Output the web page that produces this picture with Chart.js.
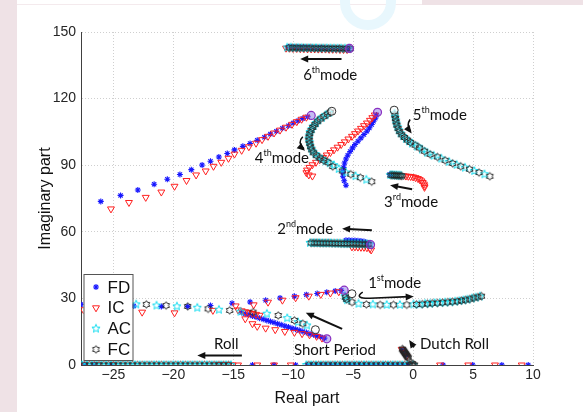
<!DOCTYPE html>
<html lang="en">
<head>
<meta charset="UTF-8" />
<title>Root locus</title>
<script src="https://cdn.jsdelivr.net/npm/chart.js"></script>
<style>
    html, body { margin: 0; padding: 0; background: #ffffff; }
    .wrap { position: relative; width: 583px; height: 412px; overflow: hidden; }
    .strip-left { position: absolute; left: 0; top: 0; width: 17px; height: 412px; background: #efe2e6; }
    .strip-top { position: absolute; left: 422px; top: 0; width: 161px; height: 5px; background: #efe2e6; }
    .line-top { position: absolute; left: 17px; top: 4px; width: 405px; height: 1px; background: #f4eaed; }
    .mark { position: absolute; left: 340px; top: -26px; width: 36px; height: 36px; border: 10px solid #e8f7fd; border-radius: 50%; }
    canvas { position: absolute; left: 0; top: 0; }
</style>
</head>
<body>
<div class="wrap">
    <div class="strip-left"></div>
    <div class="strip-top"></div>
    <div class="line-top"></div>
    <div class="mark"></div>
    <canvas id="locus" width="583" height="412"></canvas>
</div>
<script>
// tick values
const xTickValues = [-25, -20, -15, -10, -5, 0, 5, 10];
const yTickValues = [0, 30, 60, 90, 120, 150];

// FD  [real, imag]
const fdPoints = [
    // 6th mode
    [-10.4,143.2],[-10.15,143.2],[-9.9,143.1],[-9.65,143.1],[-9.4,143.0],[-9.15,143.0],[-8.9,142.9],[-8.65,142.9],[-8.4,142.9],[-8.15,142.8],[-7.9,142.8],[-7.65,142.8],[-7.4,142.7],[-7.15,142.7],[-6.9,142.7],[-6.65,142.6],[-6.4,142.6],[-6.15,142.6],[-5.9,142.5],[-5.65,142.5],[-5.4,142.5],
    // long branch, upper left
    [-26.05,73.7],[-24.4,76.4],[-22.96,78.8],[-21.6,81.4],[-20.5,83.7],[-19.45,85.8],[-18.5,88],[-17.6,90.1],[-16.9,91.8],[-16.2,93.7],[-15.5,95.3],[-14.9,96.9],[-14.2,98.5],[-13.6,99.8],[-13.0,101.2],[-12.4,102.6],[-11.9,104],[-11.4,105.3],[-10.9,106.6],[-10.4,107.8],[-10.0,109],[-9.6,110],[-9.2,111],[-8.8,111.8],
    // branch near 4th mode
    [-5.6,81],[-5.75,83],[-5.85,85],[-5.85,87],[-5.8,89],[-5.72,91],[-5.6,92.8],[-5.45,94.5],[-5.25,96.2],[-5.05,97.8],[-4.85,99.3],[-4.6,100.8],[-4.35,102.3],[-4.1,103.8],[-3.85,105.3],[-3.65,106.8],[-3.45,108.3],[-3.3,109.8],[-3.15,111.2],[-3.05,112.6],
    // 3rd mode
    [-1.95,85.8],[-1.8,85.7],
    // 2nd mode
    [-5.6,56.2],[-5.35,56.2],[-5.1,56.1],[-4.85,56.1],[-4.6,56.0],[-4.35,55.9],[-4.1,55.6],[-3.85,55.1],
    // 1st mode
    [-27.7,27.3],[-25.6,26.9],[-23.3,26.6],[-21.0,26.4],[-18.8,26.4],[-16.9,26.8],[-15.1,27.8],[-13.6,28.4],[-12.3,29.2],[-11.1,30.2],[-9.9,31.0],[-8.9,31.7],[-8.0,32.2],[-7.2,32.8],[-6.5,33.3],[-6.0,33.6],
    // short period
    [-14.3,23.6],[-14.0,23.1],[-13.7,22.6],[-13.4,22.1],[-13.1,21.6],[-12.8,21.1],[-12.5,20.6],[-12.2,20.1],[-11.9,19.6],[-11.6,19.1],[-11.3,18.6],[-11.0,18.1],[-10.7,17.6],[-10.4,17.1],[-10.1,16.6],[-9.8,16.1],[-9.5,15.6],[-9.2,15.1],[-8.9,14.6],[-8.6,14.1],[-8.3,13.6],[-8.0,13.1],[-7.7,12.6],[-7.4,12.1],
    // real axis (roll)
    [-27.4,0],[-26.6,0],[-25.2,0],[-13.4,0],[-11.6,0],[-9.8,0],
    [-8.8,0],[-8.4,0],[-8.0,0],[-7.6,0],[-7.2,0],[-6.8,0],[-6.4,0],[-6.0,0],[-5.6,0],[-5.2,0],[-4.8,0],[-4.4,0],[-4.0,0],[-3.6,0],[-3.2,0],[-2.8,0],[-2.4,0],[-2.0,0],[-1.6,0],[-1.2,0],[-0.8,0],[-0.4,0],
    [2.5,0],[4.97,0],[7.4,0],[9.6,0],
    // dutch roll
    [-0.85,6.6],[-0.6,4.6]
];

// IC  [real, imag]
const icPoints = [
    // 6th mode
    [-10.6,142.7],[-10.3,142.7],[-10.0,142.6],[-9.7,142.6],[-9.4,142.5],[-9.1,142.5],[-8.8,142.4],[-8.5,142.4],[-8.2,142.4],[-7.9,142.3],[-7.6,142.3],[-7.3,142.3],[-7.0,142.2],[-6.7,142.2],[-6.4,142.2],[-6.1,142.1],[-5.8,142.1],[-5.5,142.1],
    // long branch, upper left
    [-25.2,70.3],[-23.7,73.2],[-22.3,75.5],[-21.0,77.9],[-19.9,80.5],[-18.9,83.1],[-18.1,85.6],[-17.3,87.4],[-16.65,89.5],[-16.0,91.3],[-15.4,93.1],[-14.9,95.0],[-14.3,96.7],[-13.7,98.3],[-13.1,99.9],[-12.6,101.5],[-12.1,103],[-11.6,104.5],[-11.1,105.8],[-10.6,107.1],[-10.1,108.4],[-9.7,109.6],[-9.3,110.7],[-8.9,111.6],
    // branch near 4th mode
    [-3.2,112.6],[-3.4,111.4],[-3.6,110.2],[-3.85,109],[-4.1,107.8],[-4.35,106.6],[-4.6,105.4],[-4.85,104.2],[-5.1,103],[-5.4,101.8],[-5.7,100.5],[-6.0,99.3],[-6.3,98.1],[-6.6,96.9],[-6.9,95.7],[-7.2,94.6],[-7.5,93.5],[-7.8,92.4],[-8.1,91.3],[-8.4,90.2],[-8.65,89],[-8.85,87.8],[-8.9,86.6],[-8.7,85.6],[-8.4,85.1],
    // 3rd mode
    [-1.0,85.3],[-0.8,85.2],[-0.6,85.1],[-0.4,85.0],[-0.2,84.9],[0.0,84.7],[0.2,84.4],[0.4,84.0],[0.55,83.5],[0.7,82.9],[0.8,82.2],[0.9,81.5],[0.95,80.7],[0.95,80.0],
    // 2nd mode
    [-5.1,53.2],[-4.85,53.2],[-4.6,53.1],[-4.35,53.0],[-4.1,53.0],[-3.85,52.8],[-3.6,52.4],[-3.5,51.8],
    // 1st mode
    [-27.5,24.9],[-26.4,24.5],[-24.8,24.2],[-22.6,23.8],[-19.9,23.5],[-16.7,24.6],[-14.8,26.6],[-13.3,27.1],[-12.1,28.3],[-10.9,29.2],[-9.8,30.3],[-8.7,31.0],[-7.7,31.8],[-6.9,32.4],[-6.2,33.0],
    // short period
    [-14.6,24.8],[-14.3,24.4],[-14.0,24.0],[-13.7,23.6],[-13.4,23.2],[-13.1,22.8],[-12.8,22.4],
    [-14.0,20.8],[-13.4,18.6],[-13.0,17.4],[-12.3,16.6],[-11.5,15.9],[-10.7,15.1],[-9.9,14.7],[-9.26,14.1],[-8.64,13.6],[-8.05,12.9],[-7.6,12.1],
    // real axis (roll)
    [-27.4,0],[-26.3,0],[-25.0,0],[-16.4,0],[-16.2,0],[-16.0,0],[-15.8,0],[-15.6,0],[-15.4,0],[-15.2,0],[-15.05,0],[-14.6,0],[-13.0,0],[-11.6,0],[-10.2,0],
    [2.25,0],[4.6,0],[6.83,0],[9.06,0],
    // dutch roll
    [-0.95,7.0],[-0.75,5.4],[-0.55,4.0]
];

// AC  [real, imag]
const acPoints = [
    // 6th mode
    [-10.5,143.0],[-10.2,143.0],[-9.9,142.9],[-9.6,142.9],[-9.3,142.9],[-9.0,142.8],[-8.7,142.8],[-8.4,142.8],[-8.1,142.8],[-7.8,142.7],[-7.5,142.7],[-7.2,142.7],[-6.9,142.7],[-6.6,142.6],[-6.3,142.6],[-6.0,142.6],[-5.7,142.6],[-5.4,142.6],
    // 4th mode
    [-7.0,113.6],[-7.3,112.5],[-7.6,111.4],[-7.9,110.3],[-8.1,109],[-8.3,107.7],[-8.45,106.3],[-8.6,105],[-8.65,103.5],[-8.7,102],[-8.65,100.5],[-8.6,99],[-8.5,97.6],[-8.4,96.3],[-8.15,95],[-7.9,93.7],[-7.6,92.7],[-7.3,91.8],[-6.95,90.9],[-6.6,90],[-6.2,88.3],[-5.6,86.7],[-4.8,85.1],[-3.9,83.5],
    // 5th mode
    [-1.55,113.3],[-1.5,111.8],[-1.45,110.3],[-1.4,108.8],[-1.3,107.3],[-1.2,105.8],[-1.05,104.4],[-0.85,103.1],[-0.6,101.9],[-0.35,100.8],[-0.1,99.8],[0.35,98.4],[0.74,97.1],[1.18,95.6],[1.72,94.3],[2.35,93.0],[3.0,91.5],[3.63,90.2],[4.33,88.9],[5.1,87.4],[5.95,85.9],
    // 3rd mode
    [-1.9,85.6],[-1.75,85.6],[-1.6,85.5],[-1.45,85.5],[-1.3,85.4],[-1.15,85.4],[-1.0,85.3],
    // 2nd mode
    [-8.6,55.0],[-8.35,55.0],[-8.1,55.0],[-7.85,55.0],[-7.6,54.9],[-7.35,54.9],[-7.1,54.9],[-6.85,54.9],[-6.6,54.8],[-6.35,54.8],[-6.1,54.8],[-5.85,54.7],[-5.6,54.7],[-5.35,54.7],[-5.1,54.6],[-4.85,54.6],[-4.6,54.6],[-4.35,54.5],[-4.1,54.5],[-3.85,54.4],[-3.6,54.4],
    // 1st mode
    [-26.5,27.0],[-24.8,27.0],[-23.1,27.3],[-21.4,26.8],[-19.7,26.4],[-18.0,25.8],[-16.2,24.9],
    [-5.7,31.0],[-5.6,30.0],[-5.5,29.2],[-4.55,27.6],[-3.36,27.3],[-2.2,27.1],[-1.1,27.1],[0.03,27.3],[0.53,27.3],[1.0,27.6],[1.4,27.6],[1.8,27.9],[2.25,28.0],[2.67,28.2],[3.08,28.3],[3.5,28.6],[3.86,28.9],[4.2,29.2],[4.53,29.5],[4.9,30.0],[5.22,30.4],[5.58,30.9],
    // short period
    [-14.4,24.0],[-12.2,23.1],[-10.5,21.1],[-9.6,19.3],[-8.86,17.8],
    // real axis (roll)
    [-27.6,0],[-27.2,0],[-26.8,0],[-26.4,0],[-26.0,0],[-25.6,0],[-25.2,0],[-24.8,0],[-24.4,0],[-24.0,0],[-23.6,0],[-23.2,0],[-22.8,0],[-22.4,0],[-22.0,0],[-21.6,0],[-21.2,0],[-20.8,0],[-20.4,0],[-20.0,0],[-19.6,0],[-19.2,0],[-18.8,0],[-18.4,0],[-18.0,0],[-17.6,0],[-17.2,0],[-16.8,0],[-16.4,0],[-16.0,0],[-15.6,0],[-15.2,0],
    [-8.9,0],[-8.5,0],[-8.1,0],[-7.7,0],[-7.3,0],[-6.9,0],[-6.5,0],[-6.1,0],[-5.7,0],[-5.3,0],[-4.9,0],[-4.5,0],[-4.1,0],[-3.7,0],[-3.3,0],[-2.9,0],[-2.5,0],[-2.1,0],[-1.7,0],[-1.3,0],[-0.9,0],[-0.5,0],
    [0.0,0]
];

// FC  [real, imag]
const fcPoints = [
    // 6th mode
    [-10.35,142.9],[-10.05,142.9],[-9.75,142.9],[-9.45,142.8],[-9.15,142.8],[-8.85,142.8],[-8.55,142.8],[-8.25,142.7],[-7.95,142.7],[-7.65,142.7],[-7.35,142.7],[-7.05,142.6],[-6.75,142.6],[-6.45,142.6],[-6.15,142.6],[-5.85,142.5],[-5.55,142.5],[-5.25,142.5],
    // 4th mode
    [-6.9,113.9],[-7.15,113.0],[-7.45,111.9],[-7.75,110.8],[-8.0,109.6],[-8.2,108.3],[-8.38,107.0],[-8.52,105.6],[-8.63,104.2],[-8.68,102.7],[-8.68,101.2],[-8.62,99.7],[-8.55,98.3],[-8.45,96.9],[-8.3,95.6],[-8.05,94.3],[-7.75,93.2],[-7.45,92.2],[-7.1,91.3],
    [-6.7,89.4],[-5.9,87.4],[-5.2,85.9],[-4.4,84.4],[-3.45,82.6],
    // 5th mode
    [-1.52,112.5],[-1.47,111.0],[-1.42,109.5],[-1.35,108.0],[-1.25,106.5],[-1.12,105.1],[-0.95,103.7],[-0.72,102.5],[-0.48,101.3],[-0.22,100.3],[0.17,99.0],[0.53,97.8],[0.94,96.3],[1.42,94.9],[2.03,93.7],[2.67,92.2],[3.3,90.8],[3.97,89.5],[4.7,88.2],[5.5,86.7],[6.4,85.0],
    // 3rd mode
    [-1.85,85.5],[-1.7,85.5],[-1.55,85.4],[-1.4,85.4],[-1.25,85.3],[-1.1,85.3],[-0.95,85.2],
    // 2nd mode
    [-8.5,55.0],[-8.25,55.0],[-8.0,55.0],[-7.75,54.9],[-7.5,54.9],[-7.25,54.9],[-7.0,54.9],[-6.75,54.8],[-6.5,54.8],[-6.25,54.8],[-6.0,54.7],[-5.75,54.7],[-5.5,54.7],[-5.25,54.6],[-5.0,54.6],[-4.75,54.6],[-4.5,54.5],[-4.25,54.5],[-4.0,54.4],[-3.75,54.4],
    // 1st mode
    [-26.0,27.0],[-24.2,27.2],[-22.25,27.3],[-20.6,26.8],[-18.8,26.4],[-17.1,25.3],[-15.3,24.6],
    [-5.65,30.5],[-5.55,29.6],[-5.1,28.3],[-3.9,27.3],[-2.75,27.1],[-1.64,27.1],[-0.53,27.1],[0.28,27.3],[0.77,27.4],[1.2,27.6],[1.6,27.8],[2.03,27.9],[2.46,28.1],[2.88,28.3],[3.29,28.5],[3.68,28.7],[4.03,29.0],[4.37,29.3],[4.72,29.7],[5.06,30.2],[5.4,30.6],[5.7,31.0],
    // short period
    [-13.35,23.8],[-11.25,22.3],[-9.9,20.1],[-9.2,18.6],
    // real axis (roll)
    [-27.4,0],[-27.0,0],[-26.6,0],[-26.2,0],[-25.8,0],[-25.4,0],[-25.0,0],[-24.6,0],[-24.2,0],[-23.8,0],[-23.4,0],[-23.0,0],[-22.6,0],[-22.2,0],[-21.8,0],[-21.4,0],[-21.0,0],[-20.6,0],[-20.2,0],[-19.8,0],[-19.4,0],[-19.0,0],[-18.6,0],[-18.2,0],[-17.8,0],[-17.4,0],[-17.0,0],[-16.6,0],[-16.2,0],[-15.8,0],[-15.4,0],
    [-8.7,0],[-8.3,0],[-7.9,0],[-7.5,0],[-7.1,0],[-6.7,0],[-6.3,0],[-5.9,0],[-5.5,0],[-5.1,0],[-4.7,0],[-4.3,0],[-3.9,0],[-3.5,0],[-3.1,0],[-2.7,0],[-2.3,0],[-1.9,0],[-1.5,0],[-1.1,0],[-0.7,0],[-0.3,0],
    // dutch roll
    [-0.9,7.2],[-0.85,6.8],[-0.8,6.4],[-0.75,6.0],[-0.7,5.6],[-0.65,5.2],[-0.6,4.8],[-0.55,4.4],[-0.5,4.0],[-0.45,3.6],[-0.4,3.2],
    [-0.15,0],[0.0,0],[0.12,0],[-0.05,0.6]
];

// first and last points of some loci
const startPoints = [[-6.78,114.3],[-1.58,114.8],[-5.1,32.1],[-8.15,15.9]];
const endPoints = [[-2.97,113.8],[-8.5,112.4],[-5.3,142.6],[-3.55,54.2],[-7.2,11.8],[-5.75,33.7]];

function starImage(n, outer, inner, color, lw) {
    const size = Math.ceil(outer * 2 + 3);
    const c = document.createElement('canvas');
    c.width = size;
    c.height = size;
    const g = c.getContext('2d');
    g.translate(size / 2, size / 2);
    g.beginPath();
    for (let i = 0; i < n * 2; i++) {
        const r = i % 2 ? inner : outer;
        const a = -Math.PI / 2 + i * Math.PI / n;
        g.lineTo(r * Math.cos(a), r * Math.sin(a));
    }
    g.closePath();
    g.strokeStyle = color;
    g.lineWidth = lw;
    g.stroke();
    return c;
}

const pentagram = starImage(5, 4.3, 1.9, '#10dcef', 1);
const hexagram = starImage(6, 3.8, 2.4, '#262626', 1);

const toXY = arr => arr.map(p => ({x: p[0], y: p[1]}));

const series = [
    {label: 'FD', data: toXY(fdPoints), pointStyle: 'star', pointRadius: 3, borderColor: '#1818ff', backgroundColor: '#1818ff', pointBorderWidth: 1.1, order: 4},
    {label: 'IC', data: toXY(icPoints), pointStyle: 'triangle', pointRotation: 180, pointRadius: 4, borderColor: '#ff2020', backgroundColor: 'rgba(0,0,0,0)', pointBorderWidth: 1, order: 3},
    {label: 'AC', data: toXY(acPoints), pointStyle: pentagram, pointRadius: 4, borderColor: '#10dcef', backgroundColor: 'rgba(0,0,0,0)', order: 2},
    {label: 'FC', data: toXY(fcPoints), pointStyle: hexagram, pointRadius: 4, borderColor: '#262626', backgroundColor: 'rgba(0,0,0,0)', order: 1},
    {label: 'start', data: toXY(startPoints), pointStyle: 'circle', pointRadius: 4, borderColor: '#303030', backgroundColor: 'rgba(255,255,255,0.6)', pointBorderWidth: 1, order: 0},
    {label: 'end', data: toXY(endPoints), pointStyle: 'circle', pointRadius: 4, borderColor: '#8a2fc0', backgroundColor: 'rgba(90,60,220,0.35)', pointBorderWidth: 1.2, order: 0}
];

function arrowHead(ctx, x, y, ang) {
    ctx.beginPath();
    ctx.moveTo(x, y);
    ctx.lineTo(x - 8 * Math.cos(ang) + 3.5 * Math.sin(ang), y - 8 * Math.sin(ang) - 3.5 * Math.cos(ang));
    ctx.lineTo(x - 8 * Math.cos(ang) - 3.5 * Math.sin(ang), y - 8 * Math.sin(ang) + 3.5 * Math.cos(ang));
    ctx.closePath();
    ctx.fill();
}

function modeLabel(ctx, x, y, a, sup, b) {
    ctx.font = '15px Lato';
    ctx.fillText(a, x, y);
    let w = ctx.measureText(a).width;
    ctx.font = '9px Lato';
    ctx.fillText(sup, x + w, y - 7);
    w += ctx.measureText(sup).width;
    ctx.font = '15px Lato';
    ctx.fillText(b, x + w, y);
}

const notes = {
    id: 'notes',
    afterDatasetsDraw(chart) {
        const ctx = chart.ctx;
        const X = v => chart.scales.x.getPixelForValue(v);
        const Y = v => chart.scales.y.getPixelForValue(v);
        ctx.save();
        ctx.fillStyle = '#111';
        ctx.strokeStyle = '#111';
        ctx.lineWidth = 2;
        ctx.textBaseline = 'alphabetic';
        ctx.textAlign = 'left';

        modeLabel(ctx, X(-9.17), Y(128.3), '6', 'th', 'mode');
        modeLabel(ctx, X(-13.2), Y(90.8), '4', 'th', 'mode');
        modeLabel(ctx, X(-0.03), Y(110.3), '5', 'th', 'mode');
        modeLabel(ctx, X(-2.42), Y(71.0), '3', 'rd', 'mode');
        modeLabel(ctx, X(-11.33), Y(58.9), '2', 'nd', 'mode');
        modeLabel(ctx, X(-3.75), Y(34.5), '1', 'st', 'mode');
        ctx.font = '15px Lato';
        ctx.fillText('Short Period', X(-9.94), Y(4.7));
        ctx.fillText('Roll', X(-16.6), Y(7.4));
        ctx.fillText('Dutch Roll', X(0.58), Y(7.0));

        // straight arrows: [x1, y1, x2, y2] in data units
        const straight = [
            [-5.97, 137.8, -9.42, 137.8],
            [-0.08, 79.2, -1.92, 81.0],
            [-3.44, 60.7, -5.92, 61.4],
            [-5.92, 16.3, -8.95, 23.5],
            [-14.28, 4.3, -18.0, 4.3],
            [0.07, 8.0, -0.33, 11.3]
        ];
        straight.forEach(a => {
            const x1 = X(a[0]), y1 = Y(a[1]), x2 = X(a[2]), y2 = Y(a[3]);
            const ang = Math.atan2(y2 - y1, x2 - x1);
            ctx.beginPath();
            ctx.moveTo(x1, y1);
            ctx.lineTo(x2 - 6 * Math.cos(ang), y2 - 6 * Math.sin(ang));
            ctx.stroke();
            arrowHead(ctx, x2, y2, ang);
        });

        // curved arrows: start, control, end
        const curved = [
            [-4.2, 32.8, -5.0, 30.0, -3.6, 30.1, 0.05, 30.8],
            [-9.2, 102.8, -9.7, 100.2, -9.1, 97.4, null, null],
            [-0.25, 110.6, -0.6, 108.0, -0.2, 105.2, null, null]
        ];
        ctx.lineWidth = 1.6;
        curved.forEach(c => {
            const sx = X(c[0]), sy = Y(c[1]), cx = X(c[2]), cy = Y(c[3]), ex = X(c[4]), ey = Y(c[5]);
            ctx.beginPath();
            ctx.moveTo(sx, sy);
            ctx.quadraticCurveTo(cx, cy, ex, ey);
            if (c[6] !== null) {
                const fx = X(c[6]), fy = Y(c[7]);
                ctx.lineTo(fx - 5, fy);
                ctx.stroke();
                arrowHead(ctx, fx, fy, Math.atan2(fy - ey, fx - ex));
            } else {
                ctx.stroke();
                arrowHead(ctx, ex + 1, ey + 2, Math.atan2(ey - cy, ex - cx));
            }
        });
        ctx.restore();
    }
};

const boxLegend = {
    id: 'boxLegend',
    afterDraw(chart) {
        const ctx = chart.ctx;
        const a = chart.chartArea;
        const left = a.left + 2.5, top = a.bottom - 91, w = 49, h = 86;
        ctx.save();
        ctx.fillStyle = '#ffffff';
        ctx.fillRect(left, top, w, h);
        ctx.strokeStyle = '#555';
        ctx.lineWidth = 1;
        ctx.strokeRect(left + 0.5, top + 0.5, w, h);
        ctx.font = '17px "Liberation Sans"';
        ctx.textBaseline = 'middle';
        ctx.textAlign = 'left';
        chart.data.datasets.slice(0, 4).forEach((ds, i) => {
            const cy = top + 13 + i * 20.8;
            const cx = left + 12.5;
            ctx.strokeStyle = ds.borderColor;
            ctx.fillStyle = ds.backgroundColor;
            ctx.lineWidth = ds.pointBorderWidth || 1;
            Chart.helpers.drawPoint(ctx, {pointStyle: ds.pointStyle, radius: ds.pointRadius, rotation: ds.pointRotation || 0, borderWidth: ds.pointBorderWidth || 1}, cx, cy);
            ctx.fillStyle = '#111';
            ctx.fillText(ds.label, left + 24, cy + 1);
        });
        ctx.restore();
    }
};

const minusSign = v => String(v).replace('-', '\u2212');

new Chart(document.getElementById('locus'), {
    type: 'scatter',
    data: {datasets: series},
    options: {
        responsive: false,
        animation: false,
        devicePixelRatio: 1,
        layout: {padding: {left: 0, right: 50, top: 32, bottom: 0}},
        plugins: {legend: {display: false}, tooltip: {enabled: false}},
        scales: {
            x: {
                type: 'linear',
                min: -27.7,
                max: 10,
                afterBuildTicks: s => { s.ticks = xTickValues.map(v => ({value: v})); },
                afterFit: s => { s.height = 47; },
                ticks: {callback: minusSign, autoSkip: false, maxRotation: 0, padding: 2, color: '#262626', font: {family: 'Liberation Sans', size: 14}},
                grid: {color: '#cfcfcf', drawTicks: false, lineWidth: 1},
                border: {display: true, color: '#404040', width: 1, dash: [1, 2]},
                title: {display: true, text: 'Real part', color: '#111', font: {family: 'Liberation Sans', size: 16}, padding: {top: 13}}
            },
            y: {
                type: 'linear',
                min: 0,
                max: 150,
                afterBuildTicks: s => { s.ticks = yTickValues.map(v => ({value: v})); },
                afterFit: s => { s.width = 81; },
                ticks: {callback: minusSign, padding: 5, color: '#262626', font: {family: 'Liberation Sans', size: 14}},
                grid: {color: '#cfcfcf', drawTicks: false, lineWidth: 1},
                border: {display: true, color: '#404040', width: 1, dash: [1, 2]},
                title: {display: true, text: 'Imaginary part', color: '#111', font: {family: 'Liberation Sans', size: 16}, padding: {top: 36}}
            }
        }
    },
    plugins: [notes, boxLegend]
});
</script>
</body>
</html>
